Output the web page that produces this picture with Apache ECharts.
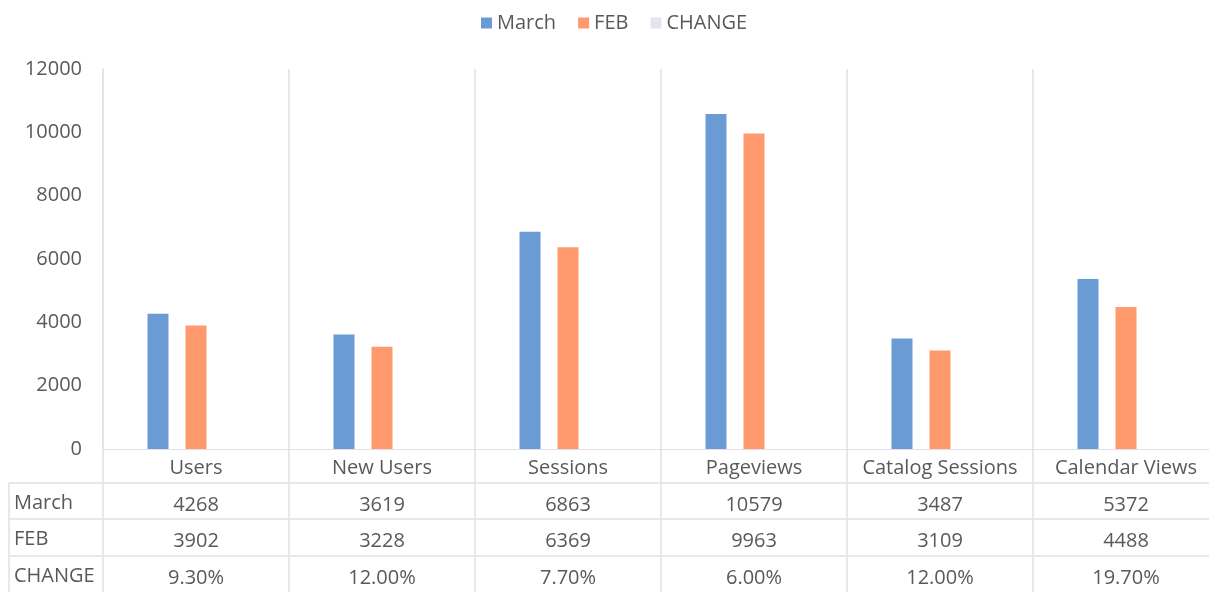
<!DOCTYPE html>
<html>
<head>
<meta charset="utf-8">
<script src="https://cdn.jsdelivr.net/npm/echarts@6/dist/echarts.min.js"></script>
<style>
  html, body { margin: 0; padding: 0; background: #fff; }
  #chart { width: 1209px; height: 592px; }
</style>
</head>
<body>
<div id="chart"></div>
<script>
const categories = ['Users', 'New Users', 'Sessions', 'Pageviews', 'Catalog Sessions', 'Calendar Views'];
const marchValues = [4268, 3619, 6863, 10579, 3487, 5372];
const febValues = [3902, 3228, 6369, 9963, 3109, 4488];
const changeValues = [0.093, 0.12, 0.077, 0.06, 0.12, 0.197];
const rowNames = ['March', 'FEB', 'CHANGE'];
const yTicks = [0, 2000, 4000, 6000, 8000, 10000, 12000];

const textColor = '#595959';
const lineColor = '#e4dee8';
const font = '"Open Sans", "Liberation Sans", sans-serif';
const fontSize = 20;

const pct = v => (v * 100).toFixed(2) + '%';

const chart = echarts.init(document.getElementById('chart'));

// extra category axes used as rows of the data table
function tableRowAxis(values, offset) {
  return {
    type: 'category',
    data: values,
    position: 'bottom',
    offset: offset,
    gridIndex: 0,
    axisLine: { show: false },
    axisTick: { show: false },
    splitLine: { show: false },
    axisLabel: {
      color: textColor, fontFamily: font, fontSize: fontSize,
      margin: 8, interval: 0
    }
  };
}

const plotLeft = 103;
const hLines = [483, 519, 556];

const option = {
  backgroundColor: '#fff',
  animation: false,
  color: ['#6a9bd5', '#ff9a6e', '#e8e3ee'],
  legend: {
    top: 8,
    left: 476,
    itemWidth: 11,
    itemHeight: 11,
    itemGap: 22,
    icon: 'rect',
    textStyle: { color: textColor, fontFamily: font, fontSize: 20 },
    data: rowNames
  },
  grid: {
    left: plotLeft,
    top: 69,
    width: 1116,
    height: 380,
    containLabel: false,
    outerBoundsMode: 'none'
  },
  xAxis: [
    {
      type: 'category',
      data: categories,
      axisLine: { show: true, lineStyle: { color: lineColor, width: 1 } },
      axisTick: { show: true, length: 143, lineStyle: { color: lineColor, width: 1.5 } },
      splitLine: { show: true, lineStyle: { color: lineColor, width: 1.5 } },
      axisLabel: {
        color: textColor, fontFamily: font, fontSize: fontSize,
        margin: 9, interval: 0
      }
    },
    tableRowAxis(marchValues.map(String), 38),
    tableRowAxis(febValues.map(String), 74),
    tableRowAxis(changeValues.map(pct), 111)
  ],
  yAxis: {
    type: 'value',
    min: 0,
    max: yTicks[yTicks.length - 1],
    interval: yTicks[1] - yTicks[0],
    axisLine: { show: true, lineStyle: { color: lineColor, width: 1.5 } },
    axisTick: { show: false },
    splitLine: { show: false },
    axisLabel: {
      color: textColor, fontFamily: font, fontSize: fontSize, margin: 21,
      formatter: v => String(v)
    }
  },
  series: [
    { name: rowNames[0], type: 'bar', data: marchValues, barWidth: 21, barGap: '81%', barCategoryGap: '48%' },
    { name: rowNames[1], type: 'bar', data: febValues, barWidth: 21, barGap: '81%', barCategoryGap: '48%' },
    { name: rowNames[2], type: 'bar', data: changeValues, barWidth: 21, barGap: '81%', barCategoryGap: '48%' }
  ],
  graphic: [
    // data table frame
    ...hLines.map(y => ({
      type: 'line', silent: true,
      shape: { x1: 9, y1: y, x2: 1209, y2: y },
      style: { stroke: lineColor, lineWidth: 1.5 }
    })),
    {
      type: 'line', silent: true,
      shape: { x1: 9, y1: hLines[0], x2: 9, y2: 592 },
      style: { stroke: lineColor, lineWidth: 1.5 }
    },
    ...rowNames.map((name, i) => ({
      type: 'text', silent: true,
      left: 14,
      top: [493, 529, 566][i],
      style: { text: name, fill: textColor, font: fontSize + 'px ' + font }
    }))
  ]
};

chart.setOption(option);
</script>
</body>
</html>
